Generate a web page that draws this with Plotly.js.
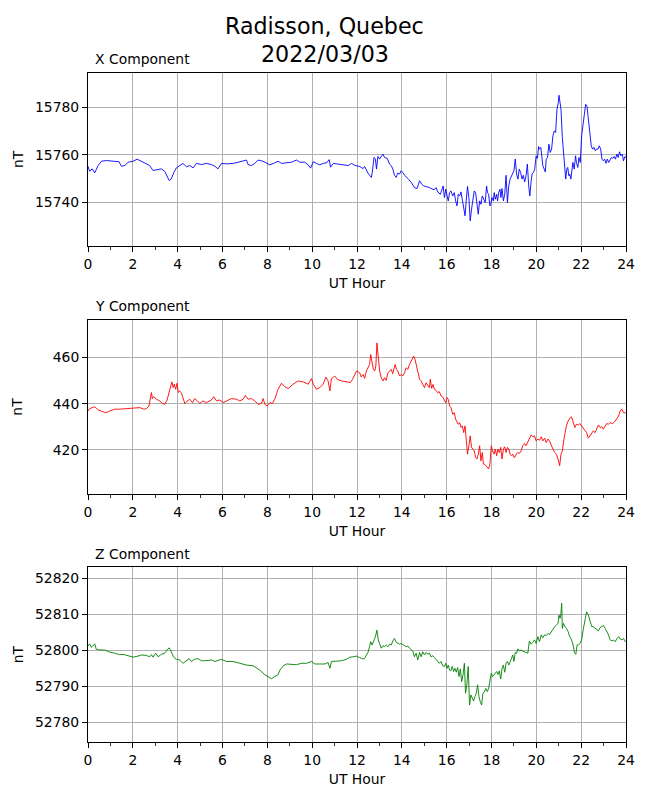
<!DOCTYPE html>
<html>
<head>
<meta charset="utf-8">
<script src="https://cdn.plot.ly/plotly-3.0.1.min.js"></script>
<style>
  html, body { margin: 0; padding: 0; background: #fff; }
  #container { width: 650px; height: 800px; }
</style>
</head>
<body>
<div id="container"></div>
<script>
// values (UT hour, nT)
var xHours = [0.00,0.07,0.19,0.30,0.45,0.60,0.82,1.12,1.38,1.49,1.64,1.79,2.01,2.19,2.38,2.60,2.75,2.90,3.05,3.27,3.42,3.53,3.62,3.72,3.82,3.94,4.09,4.24,4.39,4.54,4.69,4.84,5.06,5.28,5.51,5.66,5.80,5.95,6.18,6.47,6.70,6.92,7.07,7.14,7.29,7.44,7.59,7.81,7.96,8.11,8.33,8.48,8.63,8.85,9.08,9.30,9.45,9.67,9.82,9.93,10.05,10.19,10.34,10.49,10.64,10.76,10.82,10.94,11.16,11.38,11.61,11.76,11.91,
  12.12,12.27,12.34,12.42,12.49,12.56,12.64,12.68,12.76,12.82,12.87,12.93,13.01,13.08,13.16,13.23,13.35,13.45,13.53,13.60,13.67,13.75,13.82,13.90,13.97,14.04,14.12,14.27,14.42,14.56,14.68,14.79,14.89,14.98,15.08,15.23,15.38,15.45,15.53,15.60,15.72,15.78,15.84,15.90,15.96,16.02,16.07,16.13,16.19,16.27,16.34,16.40,16.46,16.52,16.58,16.64,16.70,16.76,16.82,16.87,16.93,16.99,17.05,17.11,17.17,17.23,17.29,17.35,17.41,17.47,17.53,17.59,17.67,
  17.72,17.78,17.82,17.87,17.93,17.97,18.02,18.08,18.12,18.17,18.23,18.27,18.32,18.38,18.42,18.47,18.53,18.59,18.65,18.71,18.77,18.83,18.89,18.95,19.00,19.06,19.12,19.18,19.24,19.30,19.36,19.42,19.48,19.54,19.60,19.66,19.71,19.77,19.81,19.87,19.93,19.99,20.05,20.10,20.14,20.20,20.25,20.29,20.35,20.40,20.44,20.50,20.56,20.62,20.68,20.74,20.80,20.86,20.92,20.98,21.01,21.06,21.10,21.16,21.21,21.27,21.31,21.36,21.40,21.45,21.49,21.54,21.58,21.63,21.69,21.75,21.79,21.85,21.90,21.96,22.02,22.08,22.14,22.20,22.26,22.32,22.39,22.45,22.51,22.57,22.63,22.69,22.75,22.81,22.87,22.93,22.99,23.05,23.11,23.17,23.23,23.29,23.35,23.41,23.47,23.53,23.59,23.65,23.71,23.77,23.83,23.89,23.95,24.00];
var xValues = [15755.2,15753.1,15754.1,15752.4,15755.5,15757.3,15757.6,15757.2,15757.1,15755.2,15755.5,15756.9,15757.3,15758.2,15757.3,15756.1,15755.5,15753.4,15753.8,15754.1,15753.1,15751.0,15749.2,15749.9,15752.4,15754.5,15755.5,15756.4,15755.0,15755.5,15754.5,15756.4,15755.9,15756.4,15755.9,15755.2,15754.1,15756.4,15756.2,15756.4,15756.9,15757.3,15757.8,15755.9,15755.5,15756.4,15757.8,15757.3,15756.4,15755.8,15756.6,15757.3,15756.4,15756.6,15756.9,15757.8,15756.9,15756.9,15755.8,15754.4,15757.1,15756.4,15755.8,15756.4,15756.6,15758.0,15754.8,15756.4,15756.2,15755.9,15755.5,15756.4,15755.5,
  15755.1,15754.2,15755.1,15753.3,15752.3,15751.4,15750.5,15752.6,15758.9,15758.2,15754.0,15759.3,15758.2,15759.3,15760.3,15758.9,15758.5,15756.1,15755.4,15754.0,15751.4,15750.5,15752.3,15751.9,15753.3,15752.6,15751.4,15750.0,15748.4,15746.2,15745.8,15749.1,15747.6,15746.9,15746.7,15746.2,15745.5,15745.3,15746.2,15744.4,15743.4,15744.8,15746.9,15742.0,15745.5,15742.7,15740.6,15744.1,15744.8,15742.7,15744.1,15740.6,15738.5,15743.4,15742.7,15744.4,15740.6,15737.8,15734.3,15740.6,15746.7,15742.0,15732.2,15737.1,15741.3,15744.8,15744.1,15739.9,15735.0,15740.6,15739.2,15742.7,15741.3,
  15739.9,15746.9,15744.1,15743.4,15738.5,15739.2,15742.0,15740.6,15744.1,15741.3,15743.4,15740.6,15744.1,15745.5,15742.0,15745.8,15740.6,15743.4,15751.4,15739.9,15746.9,15749.8,15751.2,15751.9,15753.3,15758.2,15751.9,15749.8,15754.0,15752.6,15749.8,15751.4,15748.6,15751.2,15756.1,15746.9,15742.7,15749.1,15751.9,15752.6,15754.0,15759.6,15758.5,15763.5,15762.4,15763.1,15758.2,15755.4,15754.0,15752.8,15758.2,15758.9,15764.5,15761.0,15762.4,15768.0,15770.1,15769.4,15779.2,15782.0,15785.1,15779.9,15779.2,15767.3,15762.4,15754.0,15749.8,15754.0,15754.7,15751.2,15751.9,15749.8,15754.0,15756.8,15754.0,15759.6,15756.8,15754.7,15758.9,15756.8,15768.0,15772.2,15777.8,15781.3,15780.4,15775.7,15769.4,15763.8,15762.4,15763.1,15761.7,15762.4,15762.4,15763.8,15762.4,15758.2,15757.5,15758.2,15756.4,15758.2,15756.8,15758.2,15758.9,15758.5,15759.3,15758.2,15760.3,15758.9,15761.3,15759.6,15760.3,15757.5,15759.3,15758.9];

var yHours = [0.00,0.07,0.19,0.30,0.37,0.45,0.60,0.79,0.97,1.19,1.41,1.71,2.01,2.31,2.49,2.60,2.72,2.78,2.83,2.87,2.93,3.05,3.20,3.32,3.42,3.53,3.62,3.68,3.74,3.80,3.85,3.91,3.97,4.03,4.09,4.17,4.24,4.32,4.42,4.54,4.66,4.76,4.87,4.99,5.13,5.28,5.51,5.61,5.73,5.88,6.03,6.18,6.40,6.62,6.77,6.92,7.02,7.14,7.29,7.44,7.59,7.74,7.81,7.89,7.99,8.11,8.23,8.33,8.48,8.63,8.78,8.93,9.15,9.38,9.60,9.82,9.97,10.05,10.19,10.34,10.49,10.61,10.71,10.79,10.86,11.01,11.12,11.31,11.53,11.71,11.80,11.86,11.98,
  12.12,12.19,12.27,12.34,12.42,12.49,12.56,12.61,12.67,12.73,12.79,12.84,12.89,12.95,13.01,13.08,13.16,13.23,13.30,13.38,13.45,13.53,13.59,13.64,13.70,13.76,13.82,13.90,13.97,14.04,14.12,14.19,14.27,14.34,14.42,14.49,14.53,14.59,14.65,14.71,14.79,14.86,14.93,15.01,15.08,15.16,15.23,15.27,15.33,15.39,15.45,15.53,15.60,15.67,15.75,15.82,15.90,15.96,16.02,16.07,16.13,16.19,16.27,16.34,16.40,16.46,16.52,16.58,16.64,16.70,16.76,16.82,16.87,16.93,16.99,17.05,17.11,17.17,17.23,17.29,17.35,17.41,17.47,17.53,17.59,17.64,
  17.69,17.75,17.81,17.87,17.93,17.99,18.05,18.11,18.17,18.23,18.29,18.35,18.41,18.47,18.53,18.59,18.65,18.71,18.77,18.83,18.89,18.95,19.00,19.06,19.12,19.18,19.24,19.32,19.39,19.47,19.54,19.62,19.69,19.77,19.84,19.92,19.99,20.07,20.14,20.22,20.29,20.37,20.44,20.52,20.59,20.67,20.74,20.82,20.89,20.97,21.04,21.10,21.16,21.22,21.28,21.34,21.42,21.49,21.57,21.64,21.72,21.79,21.87,21.94,22.02,22.09,22.17,22.24,22.32,22.39,22.47,22.54,22.62,22.69,22.77,22.84,22.92,22.99,23.07,23.14,23.22,23.29,23.37,23.44,23.52,23.59,23.67,23.74,23.82,23.89,23.97,24.00];
var yValues = [436.8,437.8,438.3,438.6,438.1,437.3,436.7,436.1,436.8,437.6,437.6,437.8,438.1,438.3,437.6,437.8,439.0,442.6,444.8,442.2,443.0,441.9,441.2,440.0,439.7,441.6,445.5,447.6,449.4,446.9,448.4,446.2,448.8,444.8,445.5,444.5,442.2,440.0,441.0,441.9,440.4,442.2,441.2,440.1,441.2,440.4,441.6,443.0,441.2,441.6,440.4,441.2,442.2,441.9,441.2,441.9,443.6,441.9,442.2,441.2,439.7,440.1,442.2,439.7,439.0,440.4,440.1,441.9,446.2,448.8,447.3,446.5,448.4,449.8,449.4,448.4,450.8,448.4,446.2,446.9,448.4,451.5,449.8,445.5,450.8,451.9,450.5,449.8,449.4,449.1,450.5,451.9,454.1,
  453.3,451.5,452.6,450.9,454.1,455.5,456.9,461.2,456.9,454.8,454.1,456.2,466.2,459.8,454.1,451.2,449.8,451.2,450.0,453.3,454.1,454.8,452.9,455.5,456.9,454.8,454.1,451.9,452.6,451.9,453.3,455.5,454.8,456.9,458.4,459.1,460.5,459.1,456.9,454.1,450.5,449.8,448.3,446.9,449.0,447.6,446.9,450.5,446.6,448.3,446.2,445.7,444.7,445.2,443.3,442.9,441.2,440.4,442.6,441.9,439.0,438.3,435.4,436.1,433.3,431.8,431.1,431.8,429.7,430.4,427.5,430.4,425.4,418.2,421.8,426.1,421.1,420.4,419.6,416.8,416.1,418.2,421.8,415.3,418.9,413.9,
  413.9,413.2,412.5,411.8,413.9,421.8,419.6,418.2,420.4,417.5,420.4,418.9,421.1,416.1,420.4,421.4,418.9,421.1,420.4,418.2,417.5,418.2,416.8,417.1,418.5,418.9,418.5,419.6,421.8,422.8,421.8,423.7,425.4,426.5,425.7,426.1,423.9,424.7,424.2,425.7,423.9,425.1,423.2,424.7,423.9,421.8,420.4,418.9,418.2,416.1,413.2,418.2,419.6,423.9,427.5,430.4,432.5,433.7,434.3,432.5,429.7,431.1,430.8,431.4,430.4,429.7,428.2,427.5,425.1,426.1,427.1,428.2,427.5,429.0,430.8,429.7,430.0,429.0,430.4,431.4,431.1,431.8,431.4,431.7,432.5,433.3,434.7,436.9,437.6,436.1,436.1,435.7];

var zHours = [0.00,0.07,0.15,0.22,0.30,0.37,0.52,0.74,0.97,1.19,1.41,1.56,1.79,2.01,2.23,2.38,2.60,2.75,2.83,2.90,3.02,3.13,3.27,3.42,3.53,3.62,3.68,3.74,3.82,3.94,4.09,4.24,4.39,4.51,4.61,4.76,4.91,5.06,5.21,5.36,5.51,5.66,5.80,5.95,6.18,6.47,6.77,7.07,7.37,7.66,7.89,8.04,8.19,8.33,8.48,8.56,8.71,8.85,9.08,9.30,9.52,9.75,9.97,10.12,10.34,10.57,10.71,10.79,10.86,11.09,11.31,11.53,11.68,11.83,11.98,
  12.12,12.27,12.34,12.42,12.49,12.56,12.61,12.67,12.73,12.79,12.84,12.89,12.95,13.01,13.08,13.16,13.23,13.30,13.38,13.45,13.53,13.60,13.67,13.75,13.82,13.90,13.97,14.04,14.12,14.19,14.27,14.34,14.42,14.49,14.56,14.64,14.71,14.79,14.86,14.93,15.01,15.08,15.16,15.23,15.30,15.38,15.45,15.53,15.60,15.67,15.75,15.82,15.90,15.96,16.02,16.07,16.13,16.19,16.25,16.31,16.37,16.43,16.49,16.55,16.61,16.67,16.73,16.79,16.84,16.90,16.96,17.02,17.08,17.14,17.20,17.26,17.32,17.38,17.44,17.50,17.56,17.62,17.67,
  17.75,17.81,17.87,17.93,17.99,18.05,18.11,18.17,18.23,18.29,18.35,18.41,18.47,18.53,18.59,18.65,18.71,18.77,18.83,18.89,18.95,19.00,19.06,19.12,19.18,19.24,19.32,19.39,19.47,19.54,19.62,19.69,19.77,19.84,19.92,19.99,20.07,20.14,20.22,20.29,20.37,20.44,20.52,20.59,20.67,20.74,20.82,20.89,20.97,21.01,21.06,21.10,21.13,21.16,21.21,21.27,21.34,21.42,21.49,21.57,21.64,21.70,21.76,21.82,21.88,21.94,22.02,22.09,22.17,22.24,22.32,22.39,22.47,22.54,22.62,22.69,22.77,22.84,22.92,22.99,23.07,23.14,23.22,23.29,23.37,23.44,23.52,23.59,23.67,23.74,23.82,23.89,23.97,24.00];
var zValues = [52801.2,52801.8,52800.8,52801.2,52801.8,52800.3,52800.1,52800.1,52799.5,52799.2,52798.8,52798.9,52798.4,52798.1,52798.4,52798.7,52798.6,52798.2,52798.8,52798.1,52799.2,52798.2,52798.9,52799.2,52800.1,52800.7,52800.1,52799.2,52798.1,52797.5,52797.3,52796.4,52797.1,52797.7,52796.9,52797.5,52797.7,52797.1,52797.1,52797.1,52797.3,52796.9,52797.3,52797.5,52796.9,52796.9,52796.4,52795.9,52795.7,52794.5,52793.2,52792.7,52792.1,52792.7,52793.2,52794.5,52795.7,52796.2,52796.2,52796.0,52796.4,52796.4,52796.9,52796.2,52796.2,52796.2,52796.6,52795.0,52796.9,52796.9,52797.1,52797.5,52798.1,52798.2,52798.4,
  52798.0,52797.6,52797.8,52798.7,52799.4,52801.0,52802.4,52801.5,52802.2,52803.3,52804.3,52805.6,52802.9,52801.9,52800.6,52801.3,52801.0,52801.5,52801.0,52801.7,52801.5,52802.6,52803.3,52802.2,52801.9,52801.7,52801.9,52801.7,52801.3,52801.0,52801.2,52800.6,52800.1,52799.8,52798.2,52799.2,52797.3,52799.4,52798.2,52799.6,52798.7,52799.4,52798.9,52799.2,52798.2,52798.5,52798.0,52797.3,52796.9,52796.4,52796.9,52795.7,52795.5,52796.4,52795.0,52795.9,52794.5,52794.3,52795.5,52794.1,52795.0,52793.9,52795.2,52792.7,52794.8,52791.3,52793.2,52796.4,52788.1,52790.4,52795.5,52784.8,52787.6,52786.7,52785.9,52787.1,52788.1,52790.4,52787.1,52785.7,52784.8,52788.1,52788.3,
  52789.4,52788.5,52789.3,52792.2,52793.6,52792.7,52793.2,52793.6,52794.1,52793.3,52794.3,52792.0,52795.0,52795.9,52793.9,52796.4,52796.9,52795.9,52797.0,52797.8,52798.7,52796.9,52799.4,52799.2,52800.4,52799.8,52800.1,52799.8,52799.6,52799.4,52799.2,52802.6,52801.7,52802.2,52802.9,52801.9,52803.8,52802.4,52804.3,52803.5,52804.3,52804.1,52804.7,52804.4,52805.2,52805.9,52806.6,52807.0,52807.5,52809.8,52808.9,52810.3,52813.1,52806.1,52807.5,52806.6,52806.1,52805.2,52803.8,52802.9,52801.5,52799.4,52798.9,52801.5,52801.5,52801.9,52802.9,52805.7,52808.9,52810.7,52809.8,52808.4,52806.6,52806.6,52806.1,52805.9,52805.4,52806.3,52806.6,52806.9,52806.1,52805.4,52804.3,52802.9,52802.6,52802.9,52802.4,52803.2,52803.8,52803.2,52802.9,52803.3,52802.4,52802.6];

var panelTitles = ['X Component', 'Y Component', 'Z Component'];
var lineColors = ['#0000ff', '#ff0000', '#008000'];

var FONT = 'DejaVu Sans, sans-serif';

function xAxis(anchor) {
  return {
    anchor: anchor,
    domain: [0, 1],
    range: [0, 24],
    tick0: 0, dtick: 2,
    ticks: 'outside', ticklen: 5, tickwidth: 1, tickcolor: '#000',
    minor: {dtick: 1, tick0: 0, ticks: 'outside', ticklen: 3, tickwidth: 0.8, tickcolor: '#000', showgrid: false},
    showgrid: true, gridcolor: '#b0b0b0', gridwidth: 1,
    showline: true, linecolor: '#000', linewidth: 1, mirror: true,
    zeroline: false,
    tickfont: {family: FONT, size: 13.9, color: '#000'},
    title: {text: 'UT Hour', standoff: 7, font: {family: FONT, size: 13.9, color: '#000'}},
    automargin: false
  };
}

function yAxis(anchor, domain, range, dtick, standoff) {
  return {
    anchor: anchor,
    domain: domain,
    range: range,
    tick0: 0, dtick: dtick,
    ticks: 'outside', ticklen: 5, tickwidth: 1, tickcolor: '#000',
    showgrid: true, gridcolor: '#b0b0b0', gridwidth: 1,
    showline: true, linecolor: '#000', linewidth: 1, mirror: true,
    zeroline: false,
    tickformat: 'd',
    tickfont: {family: FONT, size: 13.9, color: '#000'},
    title: {text: 'nT', standoff: standoff, font: {family: FONT, size: 13.9, color: '#000'}},
    automargin: false
  };
}

var data = [
  {x: xHours, y: xValues, xaxis: 'x', yaxis: 'y', type: 'scatter', mode: 'lines',
   line: {color: lineColors[0], width: 0.9}, name: panelTitles[0]},
  {x: yHours, y: yValues, xaxis: 'x2', yaxis: 'y2', type: 'scatter', mode: 'lines',
   line: {color: lineColors[1], width: 0.9}, name: panelTitles[1]},
  {x: zHours, y: zValues, xaxis: 'x3', yaxis: 'y3', type: 'scatter', mode: 'lines',
   line: {color: lineColors[2], width: 0.9}, name: panelTitles[2]}
];

function label(text, x, y, size, anchor) {
  return {text: text, xref: 'paper', yref: 'paper', x: x, y: y,
    xanchor: anchor, yanchor: 'middle', showarrow: false,
    font: {family: FONT, size: size, color: '#000'}};
}

var layout = {
  width: 650, height: 800,
  margin: {l: 88, r: 24, t: 0, b: 0},
  paper_bgcolor: '#fff', plot_bgcolor: '#fff',
  showlegend: false,
  font: {family: FONT, color: '#000'},
  xaxis: xAxis('y'),
  xaxis2: xAxis('y2'),
  xaxis3: xAxis('y3'),
  yaxis: yAxis('x', [0.6925, 0.9091], [15721.6, 15794.6], 20, 8),
  yaxis2: yAxis('x2', [0.3825, 0.6000], [401.0, 476.1], 20, 26),
  yaxis3: yAxis('x3', [0.0725, 0.2909], [52774.5, 52823.1], 10, 8),
  annotations: [
    label('Radisson, Quebec', 0.4405, 1 - 26.5 / 800, 22.2, 'center'),
    label('2022/03/03', 0.4405, 1 - 53.5 / 800, 22.2, 'center'),
    label(panelTitles[0], 5 / 538, 1 - 59 / 800, 13.9, 'left'),
    label(panelTitles[1], 5 / 538, 1 - 306 / 800, 13.9, 'left'),
    label(panelTitles[2], 5 / 538, 1 - 554 / 800, 13.9, 'left')
  ]
};

Plotly.newPlot('container', data, layout, {staticPlot: true});
</script>
</body>
</html>
